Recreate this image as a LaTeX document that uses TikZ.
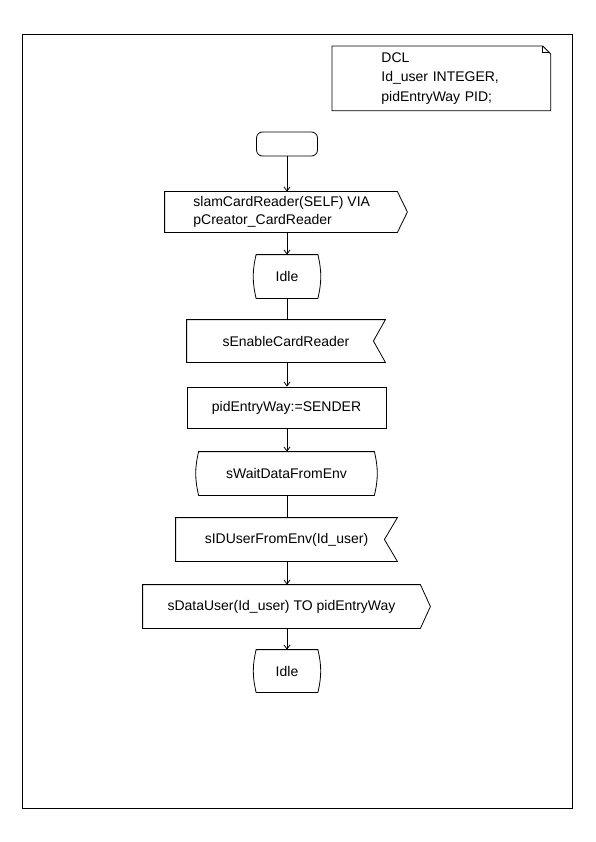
\documentclass[tikz,border=0pt]{standalone}
\usepackage{fontspec}
\setmainfont{Liberation Sans}
\usetikzlibrary{arrows.meta}
\begin{document}
\begin{tikzpicture}[x=1pt,y=-1pt,line width=0.8pt,
  every node/.style={font=\fontsize{14}{18}\selectfont, inner sep=0pt},
  box/.style 2 args={minimum width=#1, minimum height=#2},
  flow/.style={-{Straight Barb[length=4pt,width=6pt]}},
  plain/.style={-},
]
\useasboundingbox (0,0) rectangle (595,842);
% page frame
\draw (22,34) rectangle (572,808);

% declaration text symbol with folded corner
\node[box={218}{64}, anchor=north west, inner xsep=49pt, text width=120pt, align=left,
      font=\fontsize{14}{19.5}\selectfont] (dcl) at (332,46)
  {DCL\\Id\_user INTEGER,\\pidEntryWay PID;};
\draw (dcl.north west) -- ([xshift=-8pt]dcl.north east) -- ([yshift=-8pt]dcl.north east)
      -- (dcl.south east) -- (dcl.south west) -- cycle;
\draw ([xshift=-8pt]dcl.north east) -- ([xshift=-8pt,yshift=-6pt]dcl.north east)
      -- ([xshift=-2pt,yshift=-6pt]dcl.north east);

% start symbol
\node[box={61}{24}, draw, rounded corners=6pt] (start) at (287,144) {};

% output: slamCardReader
\node[box={232}{40}] (out1) at (281,212) {};
\draw (out1.north west) -- (out1.north east) -- ([xshift=10pt]out1.east)
      -- (out1.south east) -- (out1.south west) -- cycle;
\node[anchor=west, align=left] (out1text) at (193,212)
  {slamCardReader(SELF) VIA\\pCreator\_CardReader};

% state Idle
\node[box={61}{43}] (idle1) at (287,276.5) {Idle};
\draw (idle1.north west) -- (idle1.north east) to[bend left=13] (idle1.south east)
      -- (idle1.south west) to[bend left=13] cycle;

% input sEnableCardReader
\node[box={198}{42}] (in1) at (286,341) {sEnableCardReader};
\draw (in1.north west) -- (in1.north east) -- ([xshift=-12pt]in1.east)
      -- (in1.south east) -- (in1.south west) -- cycle;

% task
\node[box={199}{41}, draw] (task) at (286.5,407.5) {pidEntryWay:=SENDER};

% state sWaitDataFromEnv
\node[box={175}{43}] (wait) at (286.5,473.5) {sWaitDataFromEnv};
\draw (wait.north west) -- (wait.north east) to[bend left=13] (wait.south east)
      -- (wait.south west) to[bend left=13] cycle;

% input sIDUserFromEnv
\node[box={221}{43}] (in2) at (286.5,539.5) {sIDUserFromEnv(Id\_user)};
\draw (in2.north west) -- (in2.north east) -- ([xshift=-13pt]in2.east)
      -- (in2.south east) -- (in2.south west) -- cycle;

% output sDataUser
\node[box={277}{43}] (out2) at (281.5,606.5) {sDataUser(Id\_user) TO pidEntryWay};
\draw (out2.north west) -- (out2.north east) -- ([xshift=10pt]out2.east)
      -- (out2.south east) -- (out2.south west) -- cycle;

% state Idle
\node[box={61}{42}] (idle2) at (287,671) {Idle};
\draw (idle2.north west) -- (idle2.north east) to[bend left=13] (idle2.south east)
      -- (idle2.south west) to[bend left=13] cycle;

% flow lines
\draw[flow]  (start.south) -- (start.south |- out1.north);
\draw[flow]  (start.south |- out1.south) -- (idle1.north);
\draw[plain] (idle1.south) -- (idle1.south |- in1.north);
\draw[flow]  (idle1.south |- in1.south) -- (idle1.south |- task.north);
\draw[flow]  (idle1.south |- task.south) -- (idle1.south |- wait.north);
\draw[plain] (idle1.south |- wait.south) -- (idle1.south |- in2.north);
\draw[flow]  (idle1.south |- in2.south) -- (idle1.south |- out2.north);
\draw[flow]  (idle1.south |- out2.south) -- (idle2.north);
\end{tikzpicture}
\end{document}
